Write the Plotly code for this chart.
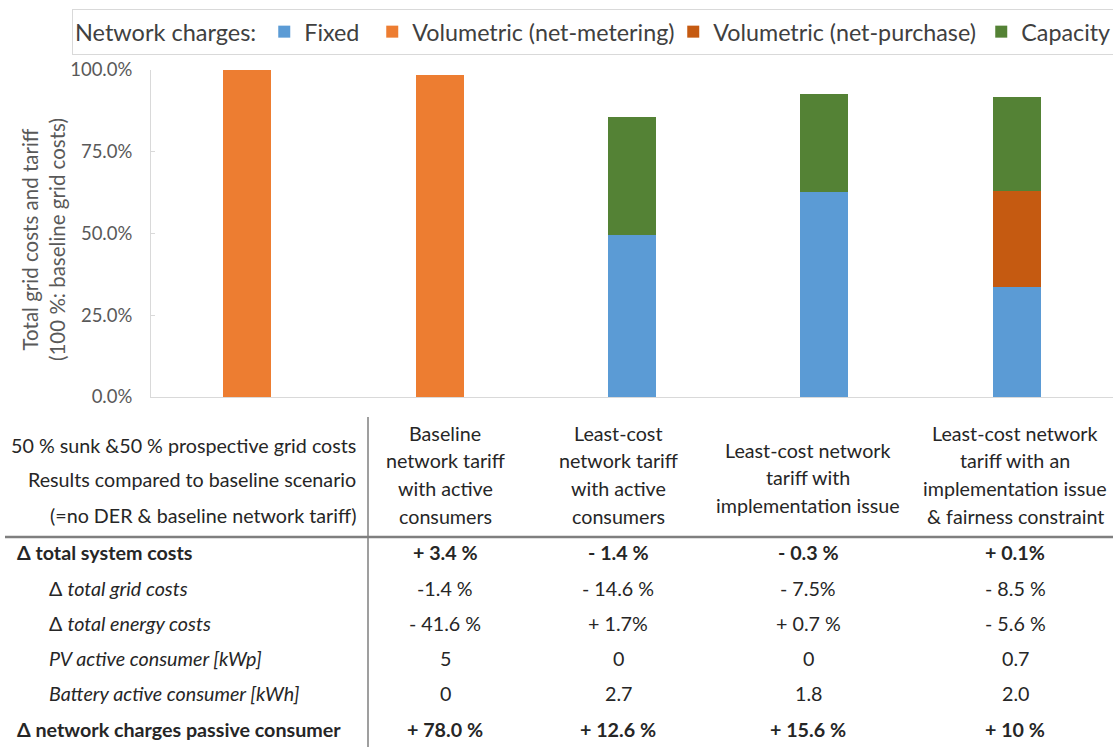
import plotly.graph_objects as go

# ---------------- data ----------------
categories = [
    "Baseline (no DER)",
    "Baseline network tariff with active consumers",
    "Least-cost network tariff with active consumers",
    "Least-cost network tariff with implementation issue",
    "Least-cost network tariff with an implementation issue & fairness constraint",
]
fixed = [0, 0, 49.5, 62.7, 33.6]
vol_net_metering = [100.0, 98.5, 0, 0, 0]
vol_net_purchase = [0, 0, 0, 0, 29.4]
capacity = [0, 0, 36.1, 30.0, 28.7]

series_names = ["Fixed", "Volumetric (net-metering)", "Volumetric (net-purchase)", "Capacity"]
series_colors = ["#5B9BD5", "#ED7D31", "#C55A11", "#548235"]

y_ticks = [0, 25, 50, 75, 100]
y_tick_labels = ["0.0%", "25.0%", "50.0%", "75.0%", "100.0%"]

table_left_header = [
    "50 % sunk &50 % prospective grid costs",
    "Results compared to baseline scenario",
    "(=no DER & baseline network tariff)",
]
table_col_headers = [
    ["Baseline", "network tariff", "with active", "consumers"],
    ["Least-cost", "network tariff", "with active", "consumers"],
    ["Least-cost network", "tariff with", "implementation issue"],
    ["Least-cost network", "tariff with an", "implementation issue", "& fairness constraint"],
]
row_labels = [
    "<b>Δ total system costs</b>",
    "Δ <i>total grid costs</i>",
    "Δ <i>total energy costs</i>",
    "<i>PV active consumer [kWp]</i>",
    "<i>Battery active consumer [kWh]</i>",
    "<b>Δ network charges passive consumer</b>",
]
row_bold = [True, False, False, False, False, True]
row_indent = [False, True, True, True, True, False]
col1_values = ["+ 3.4 %", "-1.4 %", "- 41.6 %", "5", "0", "+ 78.0 %"]
col2_values = ["- 1.4 %", "- 14.6 %", "+ 1.7%", "0", "2.7", "+ 12.6 %"]
col3_values = ["- 0.3 %", "- 7.5%", "+ 0.7 %", "0", "1.8", "+ 15.6 %"]
col4_values = ["+ 0.1%", "- 8.5 %", "- 5.6 %", "0.7", "2.0", "+ 10 %"]

# ---------------- layout helpers ----------------
W, H = 1113, 747
PL, PR, PT, PB = 151, 0, 70, 350
PW, PH = W - PL - PR, H - PT - PB
FONT = "Lato"
TXT = "#262626"
TFS = 19.7  # table font size


def fx(px):
    return (px - PL) / PW


def fy(py):
    return (H - PB - py) / PH


fig = go.Figure()
series_values = [fixed, vol_net_metering, vol_net_purchase, capacity]
legend_widths = [63, 256, 263, 100]
for name, vals, col, lw in zip(series_names, series_values, series_colors, legend_widths):
    fig.add_trace(go.Bar(x=categories, y=vals, name=name, legendwidth=lw,
                         marker=dict(color=col, line=dict(width=0))))

annotations = []
# y-axis title
annotations.append(dict(
    x=fx(43), y=fy(240), xref="paper", yref="paper", xanchor="center", yanchor="middle",
    text="Total grid costs and tariff<br>(100 %: baseline grid costs)", textangle=-90,
    showarrow=False, font=dict(family=FONT, size=20.5, color="#595959"),
))

# table left header
left_header_y = [445, 480, 515]
for t, py in zip(table_left_header, left_header_y):
    annotations.append(dict(x=fx(358), y=fy(py), xref="paper", yref="paper", xanchor="right",
                            yanchor="middle", text=t, showarrow=False,
                            font=dict(family=FONT, size=TFS, color=TXT)))

col_centers = [445, 618, 808, 1015]
header_y4 = [433, 460, 488, 516]
header_y3 = [450, 477, 505]
for cx, lines in zip(col_centers, table_col_headers):
    ys = header_y4 if len(lines) == 4 else header_y3
    for t, py in zip(lines, ys):
        annotations.append(dict(x=fx(cx), y=fy(py), xref="paper", yref="paper", xanchor="center",
                                yanchor="middle", text=t, showarrow=False,
                                font=dict(family=FONT, size=TFS, color=TXT)))

row_y = [552, 588, 623, 658, 693, 729]
for lab, py, ind in zip(row_labels, row_y, row_indent):
    annotations.append(dict(x=fx(47 if ind else 15), y=fy(py), xref="paper", yref="paper",
                            xanchor="left", yanchor="middle", text=lab, showarrow=False,
                            font=dict(family=FONT, size=TFS, color=TXT)))

for cx, vals in zip(col_centers, [col1_values, col2_values, col3_values, col4_values]):
    for v, py, b in zip(vals, row_y, row_bold):
        annotations.append(dict(x=fx(cx), y=fy(py), xref="paper", yref="paper", xanchor="center",
                                yanchor="middle", text=f"<b>{v}</b>" if b else v, showarrow=False,
                                font=dict(family=FONT, size=TFS, color=TXT)))

shapes = [
    dict(type="line", xref="paper", yref="paper", x0=fx(368), x1=fx(368), y0=fy(417), y1=fy(747),
         line=dict(color="#7F7F7F", width=1.5)),
    dict(type="line", xref="paper", yref="paper", x0=fx(5), x1=fx(1113), y0=fy(537), y1=fy(537),
         line=dict(color="#7F7F7F", width=2.5)),
]

fig.update_layout(
    width=W, height=H,
    margin=dict(l=PL, r=PR, t=PT, b=PB, autoexpand=False),
    paper_bgcolor="white", plot_bgcolor="white",
    barmode="stack", bargap=0.75,
    font=dict(family=FONT, color="#404040"),
    showlegend=True,
    legend=dict(
        orientation="h", x=fx(72), y=fy(9), xanchor="left", yanchor="top",
        title=dict(text="Network charges:", font=dict(family=FONT, size=23.5, color="#404040"), side="left"),
        font=dict(family=FONT, size=23.3, color="#404040"),
        bordercolor="#D9D9D9", borderwidth=1, bgcolor="white",
        traceorder="normal", itemclick=False, itemdoubleclick=False,
    ),
    xaxis=dict(showticklabels=False, ticks="", showgrid=False, zeroline=False,
               showline=True, linecolor="#D9D9D9", linewidth=1, range=[-0.5, 4.5]),
    yaxis=dict(range=[0, 100], tickvals=y_ticks, ticktext=y_tick_labels,
               showgrid=False, zeroline=False, showline=True, linecolor="#D9D9D9", linewidth=1,
               ticks="inside", ticklen=4, tickcolor="#D9D9D9", ticklabelstandoff=14,
               tickfont=dict(family=FONT, size=18.5, color="#595959")),
    annotations=annotations,
    shapes=shapes,
)

fig.write_html("out.html", config={"displayModeBar": False},
               post_script="document.body.style.margin='0';")
